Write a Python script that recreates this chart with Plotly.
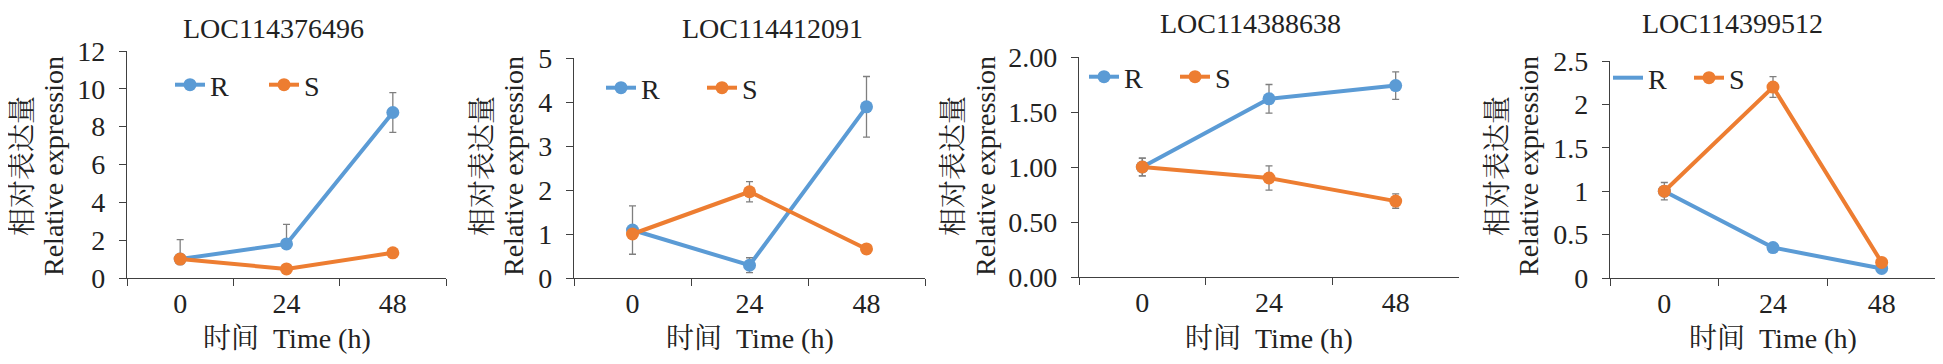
import plotly.graph_objects as go

W, H = 1943, 364
OFF = 8  # default page body margin of the html page
FIG_W, FIG_H = W - OFF, H - 2 * OFF

# ---------------- data ----------------
time_labels = ["0", "24", "48"]
genes = ["LOC114376496", "LOC114412091", "LOC114388638", "LOC114399512"]

r_vals_1 = [1.0, 1.80, 8.75]
r_err_up_1 = [1.03, 1.03, 1.05]
r_err_dn_1 = [0.0, 0.0, 1.05]
s_vals_1 = [1.0, 0.48, 1.33]
s_err_1 = [0.06, 0.04, 0.08]

r_vals_2 = [1.09, 0.29, 3.89]
r_err_2 = [0.55, 0.17, 0.69]
s_vals_2 = [1.0, 1.96, 0.66]
s_err_2 = [0.05, 0.23, 0.04]

r_vals_3 = [1.0, 1.62, 1.74]
r_err_3 = [0.08, 0.13, 0.125]
s_vals_3 = [1.0, 0.90, 0.69]
s_err_3 = [0.08, 0.11, 0.065]

r_vals_4 = [1.0, 0.35, 0.11]
r_err_4 = [0.02, 0.02, 0.02]
s_vals_4 = [1.0, 2.20, 0.18]
s_err_4 = [0.10, 0.12, 0.04]

y_ranges = [[0, 12], [0, 5], [0, 2], [0, 2.5]]
y_dticks = [2, 1, 0.5, 0.5]
y_formats = ["", "", ".2f", ""]

# ---------------- style ----------------
BLUE = "#5B9BD5"
ORANGE = "#ED7D31"
ERR = "#7F7F7F"
AXIS = "#404040"
TXT = "#222222"
FONT = "Liberation Serif, Times New Roman, Noto Serif CJK SC, Noto Sans CJK SC, serif"
FS = 28

# panel pixel boxes in the screenshot: (left, right, top, bottom)
boxes = [(127, 446, 51, 278), (574, 925, 58, 278), (1079, 1459, 57, 277), (1610, 1936, 61, 278)]
title_pos = [(273, 28), (772, 28), (1250, 23), (1732, 23)]
ytitle_cn_x = [22, 482, 953, 1497]
ytitle_en_x = [53, 513, 985, 1528]
legend_pos = [(170, 85), (601, 88), (1084, 77), (1608, 78)]
legend_step = [95, 102, 92, 82]

def px(x):
    return (x - OFF) / FIG_W

def py(y):
    return 1 - (y - OFF) / FIG_H

fig = go.Figure()

series = [
    (r_vals_1, r_err_up_1, r_err_dn_1, s_vals_1, s_err_1),
    (r_vals_2, r_err_2, r_err_2, s_vals_2, s_err_2),
    (r_vals_3, r_err_3, r_err_3, s_vals_3, s_err_3),
    (r_vals_4, r_err_4, r_err_4, s_vals_4, s_err_4),
]

for i, (rv, reu, red, sv, se) in enumerate(series):
    k = "" if i == 0 else str(i + 1)
    leg = "legend" + k
    r_marker_in_legend = i != 3
    fig.add_trace(go.Scatter(
        x=time_labels, y=rv, name="R", mode="lines+markers",
        line=dict(color=BLUE, width=4), marker=dict(color=BLUE, size=13),
        error_y=dict(type="data", array=reu, arrayminus=red, color=ERR, thickness=1.3, width=3.5),
        xaxis="x" + k, yaxis="y" + k, legend=leg, showlegend=r_marker_in_legend,
    ))
    if not r_marker_in_legend:
        fig.add_trace(go.Scatter(
            x=[None], y=[None], name="R", mode="lines",
            line=dict(color=BLUE, width=4),
            xaxis="x" + k, yaxis="y" + k, legend=leg, showlegend=True,
        ))
    fig.add_trace(go.Scatter(
        x=time_labels, y=sv, name="S", mode="lines+markers",
        line=dict(color=ORANGE, width=4), marker=dict(color=ORANGE, size=13),
        error_y=dict(type="data", array=se, color=ERR, thickness=1.3, width=3.5),
        xaxis="x" + k, yaxis="y" + k, legend=leg, showlegend=True,
    ))

layout = dict(
    width=FIG_W, height=FIG_H, autosize=False,
    margin=dict(l=0, r=0, t=0, b=0, pad=0, autoexpand=False),
    paper_bgcolor="white", plot_bgcolor="white",
    font=dict(family=FONT, size=FS, color=TXT),
    annotations=[],
)

for i in range(4):
    k = "" if i == 0 else str(i + 1)
    l, r, t, b = boxes[i]
    layout["xaxis" + k] = dict(
        domain=[px(l), px(r)], anchor="y" + k, type="category",
        categoryorder="array", categoryarray=time_labels,
        range=[-0.5, 2.5], tickson="boundaries", ticks="outside", ticklen=7,
        tickcolor=AXIS, tickwidth=1.3, showline=True, linecolor=AXIS, linewidth=1.3,
        showgrid=False, zeroline=False, fixedrange=True, automargin=False,
        tickfont=dict(family=FONT, size=FS, color=TXT),
    )
    layout["yaxis" + k] = dict(
        domain=[py(b), py(t)], anchor="x" + k, range=y_ranges[i],
        dtick=y_dticks[i], tick0=0, tickformat=y_formats[i],
        ticks="outside", ticklen=7, tickcolor=AXIS, tickwidth=1.3,
        showline=True, linecolor=AXIS, linewidth=1.3, automargin=False,
        showgrid=False, zeroline=False, fixedrange=True, ticklabelstandoff=8,
        tickfont=dict(family=FONT, size=FS, color=TXT),
    )
    lx, ly = legend_pos[i]
    layout["legend" + k] = dict(
        x=px(lx), y=py(ly), xanchor="left", yanchor="middle",
        orientation="h", bgcolor="rgba(0,0,0,0)",
        font=dict(family=FONT, size=FS, color=TXT),
        entrywidth=legend_step[i] - 46, entrywidthmode="pixels",
        itemclick=False, itemdoubleclick=False, tracegroupgap=0,
    )
    tx, ty = title_pos[i]
    layout["annotations"].append(dict(
        text=genes[i], x=px(tx), y=py(ty), xref="paper", yref="paper",
        xanchor="center", yanchor="middle", showarrow=False,
        font=dict(family=FONT, size=FS, color=TXT),
    ))
    layout["annotations"].append(dict(
        text="时间\u00a0\u00a0Time (h)", x=px((l + r) / 2), y=py(338), xref="paper", yref="paper",
        xanchor="center", yanchor="middle", showarrow=False,
        font=dict(family=FONT, size=FS, color=TXT),
    ))
    yc = 166
    layout["annotations"].append(dict(
        text="相对表达量", x=px(ytitle_cn_x[i]), y=py(yc), xref="paper", yref="paper",
        xanchor="center", yanchor="middle", showarrow=False, textangle=-90,
        font=dict(family=FONT, size=FS, color=TXT),
    ))
    layout["annotations"].append(dict(
        text="Relative expression", x=px(ytitle_en_x[i]), y=py(yc), xref="paper", yref="paper",
        xanchor="center", yanchor="middle", showarrow=False, textangle=-90,
        font=dict(family=FONT, size=FS, color=TXT),
    ))

fig.update_layout(**layout)
fig.write_html("out.html")
